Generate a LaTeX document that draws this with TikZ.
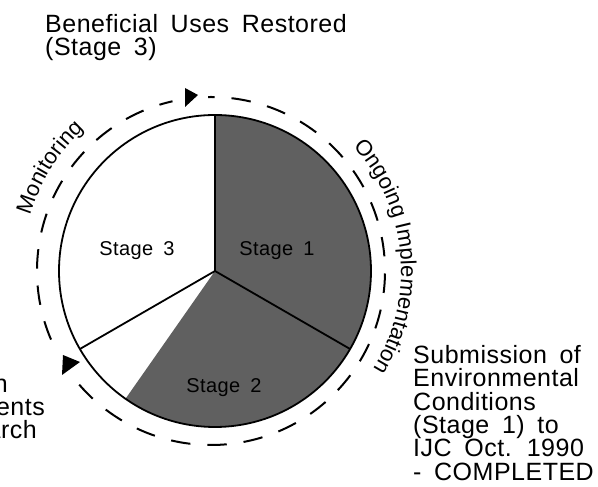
\documentclass[tikz,border=0pt]{standalone}
\usepackage{fontspec}
\setmainfont{Liberation Sans}
\newfontfamily\labelfont[LetterSpace=2,WordSpace=1.7]{Liberation Sans}
\usepackage{tikz}
\usetikzlibrary{calc}
\usetikzlibrary{decorations.text}

\definecolor{stagegray}{RGB}{96,96,96}
\newcommand{\bigtext}{\fontsize{25}{23.4}\labelfont}
\newcommand{\curvetext}{\fontsize{22}{24}\selectfont}

\begin{document}
\begin{tikzpicture}[x=1pt, y=1pt]
            \useasboundingbox (0,0) rectangle (598,487);

            \coordinate (c) at (215,216);
            \coordinate (ring) at (211,216);
            \coordinate (r90) at ($(c)+(90:156)$);
            \coordinate (r330) at ($(c)+(-30:156)$);
            \coordinate (r210) at ($(c)+(210:156)$);
            \coordinate (top mark) at (190,390);
            \coordinate (low mark) at (70,122);

            % outer cycle, open where the markers sit
            \draw[line width=2pt, dash pattern=on 19.5pt off 16.94pt, dash phase=21.8pt] (ring) circle[radius=174];
            \fill[white] (top mark) circle[radius=18];
            \fill[white] (low mark) circle[radius=18];

            % shaded stages 1 and 2
            \fill[stagegray] (c) -- (r90) arc[start angle=90, end angle=-125, radius=156] -- cycle;
            \draw[line width=1.8pt] (c) circle[radius=156];

            \begin{scope}[every edge/.style={draw=black, line width=1.8pt}]
                \path [-] (c) edge (r90);
                \path [-] (c) edge (r330);
                \path [-] (c) edge (r210);
            \end{scope}

            \fill (185,399) -- (198,392) -- (185,380) -- cycle;
            \fill (63,132) -- (80,125) -- (62,112) -- cycle;

            \path[decorate, decoration={text along path, text align=center,
                text={|\curvetext|Monitoring}}]
                ($(c)+(174:193)$) arc[start angle=174, end angle=122, radius=193];
            \path[decorate, decoration={text along path, text align=center,
                text={|\curvetext|Ongoing Implementation}}]
                ($(c)+(50:186)$) arc[start angle=50, end angle=-40, radius=186];

            \begin{scope}[every node/.style={font=\fontsize{20}{22}\labelfont, inner sep=0}]
                \node (stage3) at (137,236) {Stage 3};
                \node (stage1) at (277,236) {Stage 1};
                \node (stage2) at (224,99) {Stage 2};
            \end{scope}

            \begin{scope}[every node/.style={font=\bigtext, inner sep=0, align=left}]
                \node[anchor=north west] (restored) at (45,473) {Beneficial Uses Restored\\(Stage 3)};
                \node[anchor=north west] (submission) at (413,142) {Submission of\\Environmental\\Conditions\\(Stage 1) to\\IJC Oct. 1990\\- COMPLETED};
                \node[anchor=base east] (left1) at (8,94) {n};
                \node[anchor=base east] (left2) at (45,71) {ents};
                \node[anchor=base east] (left3) at (37,48) {arch};
            \end{scope}
        \end{tikzpicture}
\end{document}
